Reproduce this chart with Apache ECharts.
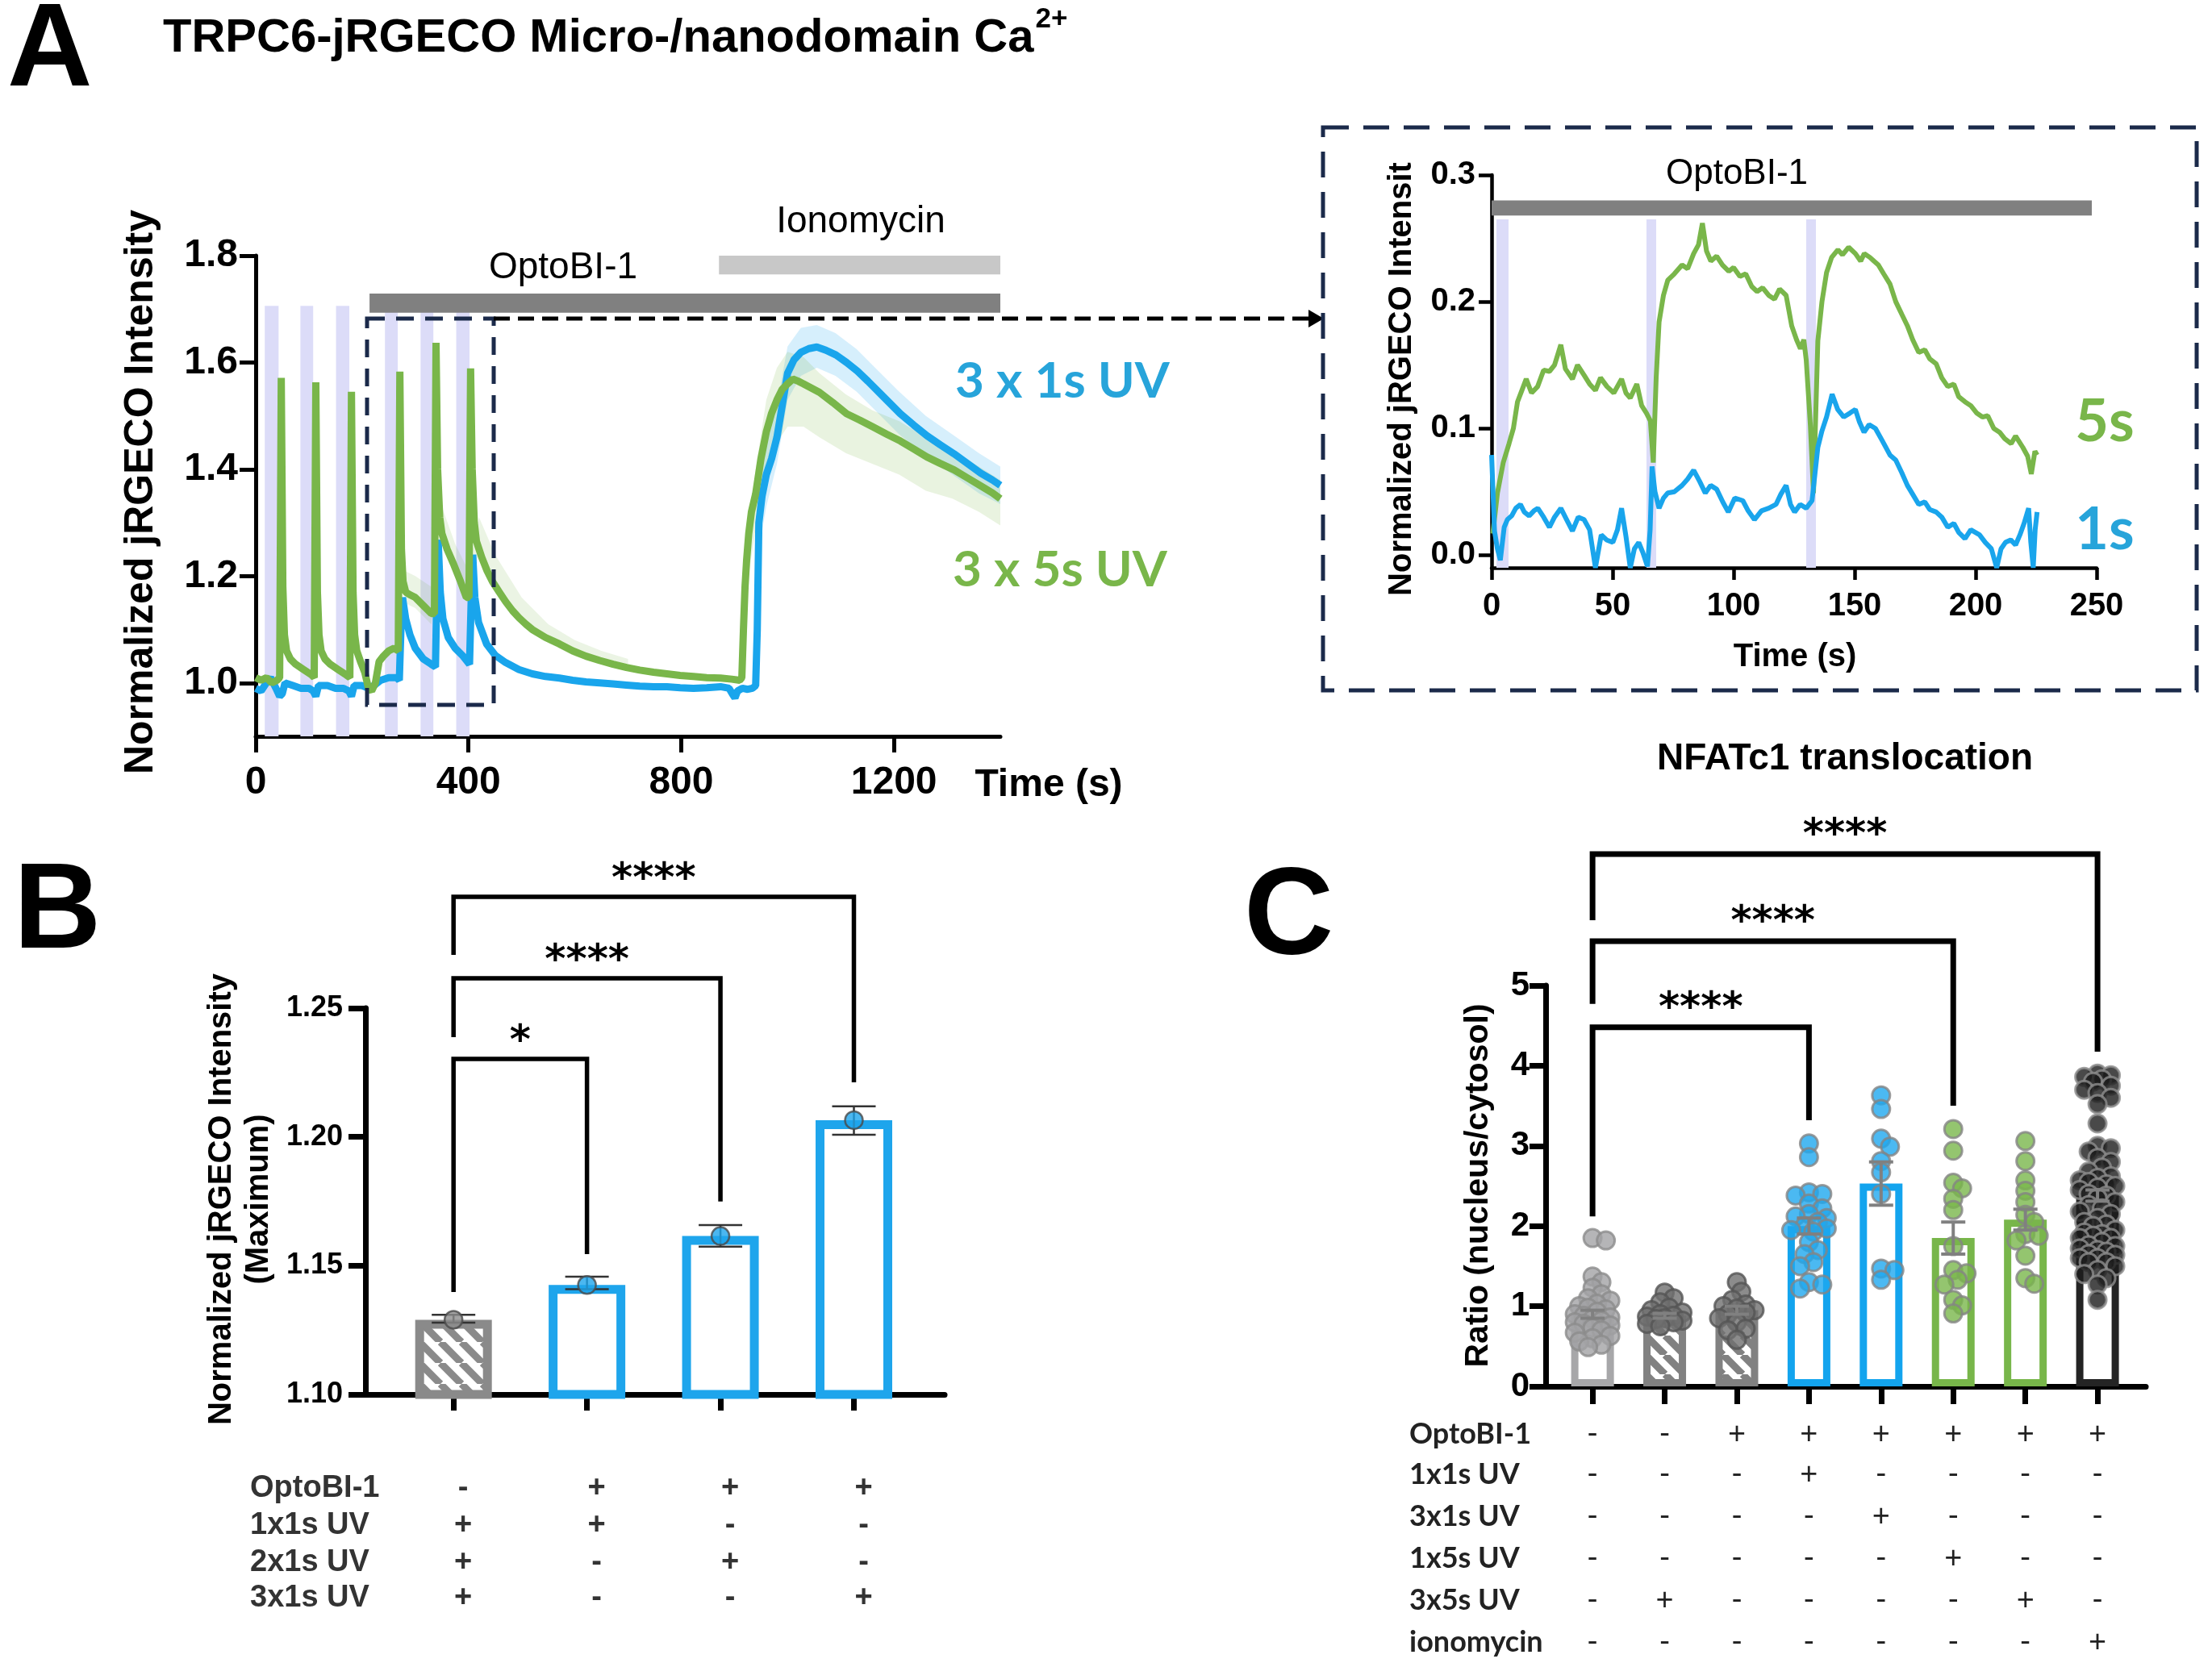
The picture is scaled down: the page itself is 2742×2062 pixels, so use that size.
<!DOCTYPE html>
<html><head><meta charset="utf-8">
<script src="https://cdn.jsdelivr.net/npm/echarts@6/dist/echarts.min.js"></script>
<style>html,body{margin:0;padding:0;background:#fff}#c{width:2742px;height:2062px}</style>
</head><body><div id="c"></div>
<script>
// ---------------- DATA ----------------
// Panel A: main traces (time s, normalized intensity)
const greenT = [0,10,20,30,40,45,48,51,54,58,65,75,90,105,110,113,116,119,123,130,140,155,170,177,180,183,186,190,197,205,212,218,225,232,240,250,260,268,271,274,277,282,290,300,315,330,336,339,342,346,350,360,373,385,396,401,404,407,411,415,425,435,445,458,470,483,495,508,520,545,571,596,621,647,672,697,722,748,773,798,823,848,874,895,910,914,917,920,923,927,932,940,950,960,970,980,990,1000,1010,1020,1030,1045,1060,1085,1111,1136,1161,1186,1212,1237,1262,1287,1313,1338,1363,1385,1400];
const greenV = [1.01,1.005,1.01,1.0,1.005,1.01,1.571,1.18,1.09,1.06,1.045,1.035,1.025,1.015,1.01,1.563,1.17,1.09,1.06,1.045,1.035,1.025,1.015,1.01,1.545,1.17,1.09,1.06,1.04,1.02,0.99,0.985,1.0,1.04,1.05,1.06,1.065,1.06,1.583,1.25,1.19,1.17,1.165,1.16,1.145,1.13,1.13,1.637,1.40,1.31,1.28,1.25,1.22,1.19,1.16,1.16,1.589,1.40,1.30,1.265,1.235,1.21,1.19,1.17,1.152,1.135,1.122,1.11,1.10,1.085,1.073,1.06,1.05,1.042,1.035,1.029,1.024,1.02,1.017,1.014,1.012,1.01,1.009,1.007,1.005,1.01,1.10,1.18,1.23,1.28,1.32,1.354,1.42,1.47,1.505,1.53,1.55,1.56,1.569,1.565,1.56,1.552,1.544,1.525,1.504,1.492,1.479,1.466,1.453,1.438,1.423,1.411,1.399,1.384,1.369,1.356,1.345];
const blueT = [0,10,20,28,38,45,50,55,70,85,100,108,113,118,135,150,165,175,180,185,200,212,222,235,250,265,270,273,276,282,290,300,315,330,338,341,343,347,352,362,375,390,402,405,408,412,419,434,450,470,495,520,545,571,596,621,647,672,697,722,748,773,798,823,848,874,890,897,901,906,915,925,934,940,943,946,952,960,970,980,990,1000,1012,1025,1040,1055,1072,1091,1111,1131,1151,1172,1192,1212,1237,1262,1287,1313,1338,1363,1385,1400];
const blueV = [0.99,0.985,1.0,1.01,0.99,0.975,0.98,1.0,0.995,0.99,0.99,0.985,0.975,0.995,0.995,0.99,0.99,0.985,0.975,0.995,0.995,0.99,0.995,1.005,1.01,1.01,1.005,1.10,1.16,1.12,1.09,1.065,1.045,1.035,1.03,1.20,1.268,1.17,1.12,1.085,1.065,1.05,1.035,1.15,1.24,1.16,1.113,1.073,1.052,1.038,1.025,1.017,1.012,1.009,1.005,1.002,1.0,0.998,0.996,0.994,0.993,0.993,0.991,0.99,0.991,0.993,0.99,0.978,0.972,0.985,0.99,0.988,0.99,0.995,1.10,1.30,1.35,1.39,1.42,1.46,1.52,1.58,1.605,1.619,1.626,1.629,1.623,1.614,1.60,1.584,1.565,1.544,1.524,1.504,1.483,1.463,1.446,1.429,1.411,1.393,1.38,1.37];
// SEM shading (upper / lower)
const greenBandT = [915,925,940,960,980,1000,1030,1060,1110,1160,1210,1260,1310,1360,1400];
const greenUp    = [1.04,1.28,1.40,1.53,1.59,1.62,1.61,1.58,1.54,1.51,1.49,1.46,1.435,1.405,1.38];
const greenLo    = [1.00,1.19,1.29,1.40,1.45,1.48,1.48,1.46,1.43,1.41,1.39,1.36,1.345,1.32,1.295];
const blueBandT  = [940,946,960,980,1000,1025,1055,1090,1130,1170,1210,1260,1310,1360,1400];
const blueUp     = [1.02,1.36,1.45,1.52,1.63,1.665,1.67,1.655,1.625,1.585,1.545,1.50,1.465,1.43,1.405];
const blueLo     = [0.98,1.25,1.33,1.41,1.53,1.575,1.59,1.575,1.545,1.505,1.465,1.425,1.39,1.355,1.335];
const greenBand2T = [280,300,330,350,375,400,420,450,500,550,600,650,700];
const greenBand2Up = [1.21,1.20,1.18,1.33,1.26,1.21,1.31,1.24,1.16,1.11,1.08,1.06,1.045];
const greenBand2Lo = [1.15,1.14,1.11,1.26,1.20,1.15,1.25,1.18,1.11,1.075,1.05,1.035,1.025];
// UV pulses (s) and treatments
const uvBands = [[17,43],[84,108],[151,176],[243,267],[310,334],[377,402]];
const uvTop = 1.706;
const treatA = [[214,1400,1.693,1.729],[871,1400,1.765,1.80]];
const treatNames = ['OptoBI-1','Ionomycin'];
const aTicksX = [0,400,800,1200];
const aTicksY = [1.0,1.2,1.4,1.6,1.8];

// Inset traces (time s, delta intensity)
const inGreenT = [0.5,2.4,4.8,7.2,9,10.7,12.5,14.3,16.5,19,21.5,23.9,26,28.6,30.5,33.4,35.5,38.2,40.5,42.9,45,47.7,50.5,53.7,55.5,57.3,60,62,64,65.6,66.8,68,69.2,71,72.8,75.5,78.7,81,83.5,85.5,87.1,88.8,90.6,93,95.4,98,100,102.6,105,107.5,109.7,112,114.5,116.9,119,121.7,124,126,127.6,129,130,131.7,133,134.8,136.5,138.4,140.5,143.1,145,147.5,150.3,152.5,154,156.3,158,159.8,162,164.6,167,169.5,171.8,174,176.5,179,181,183.7,186,188.5,191,193,195.6,198,200.5,202.8,205,207.5,209.9,212,214.7,216.5,219.5,221.5,223,224.5,225.4];
const inGreenV = [0.017,0.049,0.073,0.088,0.10,0.121,0.13,0.139,0.128,0.133,0.146,0.145,0.15,0.166,0.147,0.139,0.15,0.142,0.135,0.130,0.14,0.133,0.128,0.139,0.128,0.124,0.135,0.118,0.112,0.106,0.073,0.14,0.184,0.205,0.217,0.222,0.229,0.226,0.238,0.245,0.262,0.24,0.232,0.236,0.229,0.224,0.227,0.220,0.222,0.212,0.208,0.211,0.205,0.202,0.21,0.205,0.181,0.17,0.163,0.17,0.154,0.103,0.049,0.169,0.2,0.223,0.235,0.241,0.237,0.243,0.238,0.232,0.238,0.235,0.232,0.229,0.222,0.214,0.2,0.19,0.181,0.17,0.160,0.162,0.155,0.151,0.14,0.133,0.135,0.125,0.121,0.118,0.112,0.109,0.11,0.1,0.097,0.092,0.088,0.094,0.085,0.078,0.064,0.082,0.079];
const inBlueT = [0,1.2,2.4,3.6,5.2,6.5,8.3,10,11.9,13.5,15.5,17.5,19.1,21.5,23.9,26,28.6,31,33.4,35.8,38.2,40.5,42.9,45.3,47.5,50.1,52,53.7,55.5,57.3,59,60.8,62.5,64.4,65.5,66.3,67.5,69.2,71,72.8,75.5,78.7,81,83.5,86,88.3,90.5,93,95.5,97.8,100.5,103.8,106,108.6,111.5,114.5,117.5,119.5,121.7,123.5,125.2,127.5,130,132.4,134.8,136.5,138.4,140.7,143,145.5,148,150.3,152,153.9,156,158.6,161.5,164.6,167,169.5,171.8,174,176.5,179,181,183.7,186,188.5,191,193,195.6,198,201.6,204,206.5,208.7,210.5,212.3,214.5,216.5,218.3,220,221.9,222.8,223.8,224.6,225.4];
const inBlueV = [0.079,0.019,0.005,-0.004,0.022,0.028,0.031,0.037,0.040,0.034,0.031,0.035,0.037,0.03,0.022,0.03,0.037,0.028,0.019,0.03,0.028,0.02,-0.010,0.016,0.012,0.010,0.02,0.037,0.015,-0.010,0.005,0.010,0.002,-0.009,0.02,0.070,0.05,0.037,0.045,0.049,0.05,0.055,0.06,0.067,0.058,0.049,0.055,0.052,0.042,0.034,0.045,0.043,0.035,0.028,0.035,0.037,0.04,0.048,0.055,0.04,0.034,0.04,0.037,0.043,0.085,0.098,0.109,0.127,0.115,0.109,0.112,0.115,0.105,0.097,0.103,0.100,0.09,0.079,0.075,0.065,0.055,0.048,0.040,0.042,0.036,0.034,0.03,0.022,0.025,0.018,0.013,0.02,0.016,0.01,0.005,-0.010,0.005,0.010,0.012,0.008,0.016,0.025,0.037,0.01,-0.010,0.02,0.034];
const inUvBands = [[2,7],[64,68],[130,134]];
const inUvTop = 0.265;
const inTreat = [[0,248,0.268,0.280]];

// Panel B
const bMeans = [1.129,1.1425,1.1615,1.2065];
const bErrLo = [1.1279,1.1409,1.1574,1.2008];
const bErrHi = [1.1309,1.1457,1.1658,1.2119];
const bTicksY = [1.10,1.15,1.20,1.25];
const bBrackets = [[0,1,1.2303,1.1398,1.1545],[0,2,1.2616,1.2387,1.1749],[0,3,1.2932,1.2707,1.2212]];
const bStars = ['*','****','****'];
const bRowLabels = ['OptoBI-1','1x1s UV','2x1s UV','3x1s UV'];
const bRowOpto = ['-','+','+','+'];
const bRow1x1 = ['+','+','-','-'];
const bRow2x1 = ['+','-','+','-'];
const bRow3x1 = ['+','-','-','+'];

// Panel C
const cMeans = [0.90,0.88,0.95,2.00,2.53,1.85,2.08,2.38];
const cSem   = [0.05,0.03,0.05,0.10,0.27,0.20,0.13,0.07];
const cDots1 = [1.85,1.82,1.37,1.30,1.23,1.15,1.10,1.07,1.03,1.00,0.98,0.96,0.93,0.90,0.88,0.86,0.84,0.82,0.80,0.78,0.76,0.73,0.70,0.67,0.63,0.60,0.56,0.52,0.49];
const cDots2 = [1.17,1.10,1.05,0.98,0.95,0.92,0.90,0.88,0.87,0.85,0.84,0.82,0.80,0.78,0.75];
const cDots3 = [1.30,1.18,1.08,1.02,1.00,0.97,0.95,0.92,0.90,0.85,0.80,0.72,0.70,0.58];
const cDots4 = [3.03,2.86,2.42,2.40,2.38,2.28,2.22,2.15,2.12,2.10,2.05,2.00,1.97,1.95,1.93,1.80,1.70,1.65,1.55,1.50,1.30,1.27,1.22];
const cDots5 = [3.63,3.46,3.09,2.99,2.81,2.67,2.40,1.47,1.45,1.33];
const cDots6 = [3.21,2.94,2.54,2.47,2.34,2.20,1.75,1.45,1.41,1.33,1.27,1.08,1.01,0.91];
const cDots7 = [3.06,2.81,2.57,2.44,2.30,2.14,2.05,1.90,1.88,1.82,1.63,1.35,1.28];
const cDots8 = [3.90,3.88,3.86,3.83,3.80,3.75,3.70,3.66,3.60,3.52,3.28,3.00,2.97,2.93,2.85,2.80,2.73,2.68,2.62,2.60,2.57,2.55,2.52,2.50,2.48,2.45,2.40,2.38,2.35,2.30,2.26,2.22,2.18,2.15,2.10,2.05,2.02,2.00,1.95,1.92,1.90,1.88,1.85,1.85,1.80,1.76,1.75,1.72,1.70,1.68,1.65,1.64,1.60,1.60,1.55,1.55,1.50,1.45,1.40,1.35,1.27,1.08];
const cBrackets = [[0,3,4.48,2.12,3.32],[0,5,5.553,4.77,3.50],[0,7,6.64,5.815,4.175]];
const cStars = ['****','****','****'];
const cRowLabels = ['OptoBI-1','1x1s UV','3x1s UV','1x5s UV','3x5s UV','ionomycin'];
const cRowOpto = ['-','-','+','+','+','+','+','+'];
const cRow1x1  = ['-','-','-','+','-','-','-','-'];
const cRow3x1  = ['-','-','-','-','+','-','-','-'];
const cRow1x5  = ['-','-','-','-','-','+','-','-'];
const cRow3x5  = ['-','+','-','-','-','-','+','-'];
const cRowIono = ['-','-','-','-','-','-','-','+'];

// ---------------- STYLE ----------------
const FS = '"Liberation Sans", Arial, sans-serif';
const FL = 'Lato, "Open Sans", sans-serif';
const BLUE = '#19a5ec', GREEN = '#79b64a';
const zip = (t, v) => t.map((x, i) => [x, v[i]]);

function hatch(size, lw, color) {
  const c = document.createElement('canvas'); c.width = c.height = size;
  const g = c.getContext('2d'); g.fillStyle = '#fff'; g.fillRect(0, 0, size, size);
  g.strokeStyle = color; g.lineWidth = lw; g.beginPath();
  for (let k = -1; k <= 1; k++) { g.moveTo(k * size, 0); g.lineTo(k * size + size, size); }
  g.stroke(); return c;
}
const hatchB = hatch(26, 9, '#8a8a8a');
const hatchC = hatch(24, 9, '#818181');

function axisX(grid, min, max, opts) {
  return {
    gridIndex: grid, type: 'value', min, max,
    axisLine: { show: true, onZero: false, lineStyle: { color: '#000', width: opts.lw } },
    splitLine: { show: false },
    axisTick: { show: true, length: opts.tl, lineStyle: { color: '#000', width: opts.lw }, customValues: opts.ticks },
    axisLabel: opts.fs ? { show: true, customValues: opts.ticks, margin: opts.margin, color: '#000', fontFamily: FS, fontWeight: 'bold', fontSize: opts.fs, formatter: opts.fmt || (v => String(v)) } : { show: false }
  };
}

function rectRender(top, bottom, colors) {
  return function (params, api) {
    const p1 = api.coord([api.value(0), top != null ? top : api.value(3)]);
    const p2 = api.coord([api.value(1), bottom != null ? bottom : api.value(2)]);
    return { type: 'rect', shape: { x: p1[0], y: p1[1], width: p2[0] - p1[0], height: p2[1] - p1[1] },
      style: { fill: Array.isArray(colors) ? colors[params.dataIndex] : colors } };
  };
}
function bandRender(T, U, L, color) {
  return function (params, api) {
    const pts = [];
    for (let i = 0; i < T.length; i++) pts.push(api.coord([T[i], U[i]]));
    for (let i = T.length - 1; i >= 0; i--) pts.push(api.coord([T[i], L[i]]));
    return { type: 'polygon', shape: { points: pts }, style: { fill: color } };
  };
}
function errRender(capHalf, color, lw) {
  return function (params, api) {
    const x = api.value(0), lo = api.value(1), hi = api.value(2);
    const a = api.coord([x, hi]), b = api.coord([x, lo]);
    const st = { stroke: color, lineWidth: lw };
    return { type: 'group', children: [
      { type: 'line', shape: { x1: a[0], y1: a[1], x2: b[0], y2: b[1] }, style: st },
      { type: 'line', shape: { x1: a[0] - capHalf, y1: a[1], x2: a[0] + capHalf, y2: a[1] }, style: st },
      { type: 'line', shape: { x1: b[0] - capHalf, y1: b[1], x2: b[0] + capHalf, y2: b[1] }, style: st }
    ] };
  };
}
function bracketRender(stars, lw, gap) {
  return function (params, api) {
    const x1 = api.value(0), x2 = api.value(1), lv = api.value(2), lb = api.value(3), rb = api.value(4);
    const a = api.coord([x1, lb]), b = api.coord([x1, lv]), c = api.coord([x2, lv]), d = api.coord([x2, rb]);
    return { type: 'group', children: [
      { type: 'polyline', shape: { points: [a, b, c, d] }, style: { stroke: '#000', lineWidth: lw, fill: null, lineJoin: 'miter' } },
      { type: 'text', x: (b[0] + c[0]) / 2, y: b[1] - gap,
        style: { text: stars[params.dataIndex], font: 'bold 50px "DejaVu Sans"', fill: '#000', align: 'center', verticalAlign: 'middle', textAlign: 'center', textVerticalAlign: 'middle' } }
    ] };
  };
}

// beeswarm offsets (deterministic, no randomness)
function swarm(vals, gi, pxX, pxY, r) {
  const order = vals.map((v, i) => i).sort((a, b) => vals[b] - vals[a]);
  const placed = [], out = new Array(vals.length);
  const step = r * 0.5, minD = r * 1.15, maxK = Math.floor(r * 2.2 / step) * 2;
  order.forEach(i => {
    const y = vals[i] * pxY; let best = 0, bestScore = -1;
    for (let k = 0; k <= maxK; k++) {
      const off = (k % 2 === 1 ? 1 : -1) * Math.ceil(k / 2) * step;
      let md = Infinity;
      placed.forEach(p => { const d = Math.hypot(p[0] - off, p[1] - y); if (d < md) md = d; });
      if (md >= minD) { best = off; break; }
      if (md > bestScore) { bestScore = md; best = off; }
    }
    placed.push([best, y]); out[i] = [gi + best / pxX, vals[i]];
  });
  return out;
}

// ---------------- CHART ----------------
const chart = echarts.init(document.getElementById('c'), null, { width: 2742, height: 2062 });

const cGroups = [cDots1, cDots2, cDots3, cDots4, cDots5, cDots6, cDots7, cDots8];
const cBorder = ['#a7a7a9', '#818181', '#818181', '#13a4ee', '#13a4ee', '#78b64a', '#78b64a', '#242424'];
const cFill = ['#a3a3a5', '#6f6f6f', '#6f6f6f', '#1ea8ef', '#1ea8ef', '#79b74b', '#79b74b', '#1b1b1b'];
const cDotBorder = ['#8c8c8c', '#555555', '#555555', '#858585', '#858585', '#858585', '#858585', '#8e8e8e'];
const cPxX = 744 / (7.67 + 0.65), cPxY = 497 / 5;
const cDotData = [];
cGroups.forEach((g, gi) => {
  swarm(g, gi, cPxX, cPxY, 11).forEach(p => cDotData.push({ value: p, itemStyle: { color: cFill[gi], borderColor: cDotBorder[gi], borderWidth: 3 } }));
});

const option = {
  animation: false,
  backgroundColor: '#fff',
  textStyle: { fontFamily: FS },
  grid: [
    { left: 317, top: 317, width: 923, height: 596 },
    { left: 1849, top: 217, width: 750, height: 487 },
    { left: 453, top: 1250, width: 718, height: 479 },
    { left: 1916, top: 1222, width: 744, height: 497 }
  ],
  xAxis: [
    axisX(0, 0, 1400, { lw: 5, tl: 20, ticks: aTicksX, fs: 48, margin: 34 }),
    axisX(1, 0, 250, { lw: 4.5, tl: 15, ticks: [0, 50, 100, 150, 200, 250], fs: 40, margin: 28 }),
    axisX(2, -0.66, 3.68, { lw: 7, tl: 20, ticks: [0, 1, 2, 3] }),
    axisX(3, -0.65, 7.67, { lw: 7, tl: 22, ticks: [0, 1, 2, 3, 4, 5, 6, 7] })
  ],
  yAxis: [
    axisX(0, 0.9, 1.8, { lw: 5, tl: 20, ticks: aTicksY, fs: 48, margin: 22, fmt: v => v.toFixed(1) }),
    axisX(1, -0.01, 0.3, { lw: 4.5, tl: 16, ticks: [0, 0.1, 0.2, 0.3], fs: 40, margin: 20, fmt: v => v.toFixed(1) }),
    axisX(2, 1.10, 1.25, { lw: 7, tl: 21, ticks: bTicksY, fs: 36, margin: 28, fmt: v => v.toFixed(2) }),
    axisX(3, 0, 5, { lw: 7, tl: 20, ticks: [0, 1, 2, 3, 4, 5], fs: 42, margin: 20 })
  ],
  series: [
    // ---- Panel A ----
    { type: 'custom', xAxisIndex: 0, yAxisIndex: 0, z: 1, data: uvBands, encode: { x: [0, 1] }, renderItem: rectRender(uvTop, 0.9, '#dcdcf8') },
    { type: 'custom', xAxisIndex: 0, yAxisIndex: 0, z: 1, data: treatA, encode: { x: [0, 1], y: [2, 3] }, renderItem: rectRender(null, null, ['#808080', '#c8c8c8']) },
    { type: 'custom', xAxisIndex: 0, yAxisIndex: 0, z: 1, data: [[greenBand2T[0], greenBand2Up[0]]], encode: { x: 0, y: 1 }, renderItem: bandRender(greenBand2T, greenBand2Up, greenBand2Lo, 'rgba(122,182,72,0.15)') },
    { type: 'custom', xAxisIndex: 0, yAxisIndex: 0, z: 1, data: [[blueBandT[0], blueUp[0]]], encode: { x: 0, y: 1 }, renderItem: bandRender(blueBandT, blueUp, blueLo, 'rgba(25,165,236,0.18)') },
    { type: 'custom', xAxisIndex: 0, yAxisIndex: 0, z: 1, data: [[greenBandT[0], greenUp[0]]], encode: { x: 0, y: 1 }, renderItem: bandRender(greenBandT, greenUp, greenLo, 'rgba(122,182,72,0.17)') },
    { type: 'line', name: '3 x 1s UV', xAxisIndex: 0, yAxisIndex: 0, z: 3, showSymbol: false, data: zip(blueT, blueV), lineStyle: { color: BLUE, width: 9 }, itemStyle: { color: BLUE } },
    { type: 'line', name: '3 x 5s UV', xAxisIndex: 0, yAxisIndex: 0, z: 4, showSymbol: false, data: zip(greenT, greenV), lineStyle: { color: GREEN, width: 9 }, itemStyle: { color: GREEN } },
    // ---- Inset ----
    { type: 'custom', xAxisIndex: 1, yAxisIndex: 1, z: 1, data: inUvBands, encode: { x: [0, 1] }, renderItem: rectRender(inUvTop, -0.01, '#dcdcf8') },
    { type: 'custom', xAxisIndex: 1, yAxisIndex: 1, z: 1, data: inTreat, encode: { x: [0, 1], y: [2, 3] }, renderItem: rectRender(null, null, '#808080') },
    { type: 'line', name: '5s', xAxisIndex: 1, yAxisIndex: 1, z: 3, showSymbol: false, data: zip(inGreenT, inGreenV), lineStyle: { color: GREEN, width: 6 } },
    { type: 'line', name: '1s', xAxisIndex: 1, yAxisIndex: 1, z: 4, showSymbol: false, data: zip(inBlueT, inBlueV), lineStyle: { color: BLUE, width: 6 } },
    // ---- Panel B ----
    { type: 'bar', xAxisIndex: 2, yAxisIndex: 2, z: 2, barWidth: 95,
      data: bMeans.map((v, i) => ({ value: [i, v], itemStyle: i === 0 ? { color: { image: hatchB, repeat: 'repeat' }, borderColor: '#8a8a8a', borderWidth: 11 } : { color: '#fff', borderColor: '#1ea5ec', borderWidth: 11 } })) },
    { type: 'custom', xAxisIndex: 2, yAxisIndex: 2, z: 3, data: bMeans.map((v, i) => [i, bErrLo[i], bErrHi[i]]), encode: { x: 0, y: [1, 2] }, renderItem: errRender(27, '#333', 2.5) },
    { type: 'scatter', xAxisIndex: 2, yAxisIndex: 2, z: 4, symbolSize: 22,
      data: bMeans.map((v, i) => ({ value: [i, v], itemStyle: { color: i === 0 ? '#8c8c8c' : '#1ea5ec', borderColor: '#4a4a4a', borderWidth: 2.5 } })) },
    { type: 'custom', xAxisIndex: 2, yAxisIndex: 2, z: 5, clip: false, data: bBrackets, encode: { x: [0, 1], y: [2, 3, 4] }, renderItem: bracketRender(bStars, 5.5, 20) },
    // ---- Panel C ----
    { type: 'bar', xAxisIndex: 3, yAxisIndex: 3, z: 2, barWidth: 53,
      data: cMeans.map((v, i) => ({ value: [i, v], itemStyle: { color: (i === 1 || i === 2) ? { image: hatchC, repeat: 'repeat' } : '#fff', borderColor: cBorder[i], borderWidth: 9 } })) },
    { type: 'scatter', xAxisIndex: 3, yAxisIndex: 3, z: 3, symbolSize: 22, data: cDotData },
    { type: 'custom', xAxisIndex: 3, yAxisIndex: 3, z: 4, data: cMeans.map((v, i) => [i, v - cSem[i], v + cSem[i]]), encode: { x: 0, y: [1, 2] }, renderItem: errRender(15, '#808080', 4) },
    { type: 'custom', xAxisIndex: 3, yAxisIndex: 3, z: 5, clip: false, data: cBrackets, encode: { x: [0, 1], y: [2, 3, 4] }, renderItem: bracketRender(cStars, 7, 22) }
  ]
};
chart.setOption(option);

// ---------------- ANNOTATIONS ----------------
function txt(x, y, text, font, opts) {
  opts = opts || {};
  return { type: 'text', x, y, rotation: opts.rot || 0, z: 100,
    style: { text, font, fill: opts.fill || '#000', textAlign: opts.align || 'center', textVerticalAlign: 'middle', align: opts.align || 'center', verticalAlign: 'middle' } };
}
const G = [];
// panel letters
G.push(txt(9, 66, 'A', 'bold 146px ' + FS, { align: 'left' }));
G.push(txt(17, 1134, 'B', 'bold 150px ' + FS, { align: 'left' }));
G.push(txt(1542, 1141, 'C', 'bold 154px ' + FS, { align: 'left' }));
// title A with superscript
const titleMain = 'TRPC6-jRGECO Micro-/nanodomain Ca';
const mctx = document.createElement('canvas').getContext('2d');
mctx.font = 'bold 58px "Liberation Sans"';
const tw = mctx.measureText(titleMain).width;
G.push(txt(202, 48, titleMain, 'bold 58px ' + FS, { align: 'left' }));
G.push(txt(202 + tw + 2, 24, '2+', 'bold 35px ' + FS, { align: 'left' }));
// panel A texts
G.push(txt(175, 610, 'Normalized jRGECO Intensity', 'bold 50px ' + FS, { rot: Math.PI / 2 }));
G.push(txt(1067, 275, treatNames[1], '46px ' + FS));
G.push(txt(698, 332, treatNames[0], '46px ' + FS));
G.push(txt(1300, 974, 'Time (s)', 'bold 48px ' + FS));
G.push(txt(1317, 473, '3 x 1s UV', 'bold 62px ' + FL, { fill: '#27a4da' }));
G.push(txt(1314, 707, '3 x 5s UV', 'bold 62px ' + FL, { fill: GREEN }));
// dashed zoom box + arrow
G.push({ type: 'rect', z: 90, shape: { x: 455, y: 395, width: 157, height: 479 }, style: { fill: null, stroke: '#1b2a4a', lineWidth: 5, lineDash: [22, 14] } });
G.push({ type: 'line', z: 90, shape: { x1: 612, y1: 395, x2: 1624, y2: 395 }, style: { stroke: '#000', lineWidth: 5, lineDash: [20, 10] } });
G.push({ type: 'polygon', z: 90, shape: { points: [[1622, 384], [1641, 395], [1622, 406]] }, style: { fill: '#000' } });
G.push({ type: 'rect', z: 90, shape: { x: 1640, y: 158, width: 1083, height: 698 }, style: { fill: null, stroke: '#1b2a4a', lineWidth: 5, lineDash: [32, 18] } });
// inset texts
G.push(txt(2153, 216, treatNames[0], '44px ' + FS));
G.push(txt(1738, 470, 'Normalized jRGECO Intensit', 'bold 40px ' + FS, { rot: Math.PI / 2 }));
G.push(txt(2225, 815, 'Time (s)', 'bold 40px ' + FS));
G.push(txt(2609, 524, '5s', 'bold 72px ' + FL, { fill: GREEN }));
G.push(txt(2609, 658, '1s', 'bold 72px ' + FL, { fill: '#27a4da' }));
// panel B texts
G.push(txt(275, 1487, 'Normalized jRGECO Intensity', 'bold 40px ' + FS, { rot: Math.PI / 2 }));
G.push(txt(321, 1487, '(Maximum)', 'bold 40px ' + FS, { rot: Math.PI / 2 }));
const bRows = [bRowOpto, bRow1x1, bRow2x1, bRow3x1];
const bRowY = [1846, 1892, 1938, 1982];
bRows.forEach((row, r) => {
  G.push(txt(310, bRowY[r], bRowLabels[r], 'bold 38px ' + FS, { align: 'left', fill: '#333' }));
  row.forEach((m, i) => {
    const px = chart.convertToPixel({ xAxisIndex: 2 }, i) + 12;
    G.push(txt(px, bRowY[r], m, 'bold 38px ' + FS, { fill: '#333' }));
  });
});
// panel C texts
G.push(txt(2287, 941, 'NFATc1 translocation', 'bold 46px ' + FS));
G.push(txt(1833, 1470, 'Ratio (nucleus/cytosol)', 'bold 41px ' + FS, { rot: Math.PI / 2 }));
const cRows = [cRowOpto, cRow1x1, cRow3x1, cRow1x5, cRow3x5, cRowIono];
const cRowY = [1778, 1828, 1880, 1932, 1984, 2036];
cRows.forEach((row, r) => {
  G.push(txt(1747, cRowY[r], cRowLabels[r], 'bold 36px ' + FL, { align: 'left', fill: '#222' }));
  row.forEach((m, i) => {
    const px = chart.convertToPixel({ xAxisIndex: 3 }, i);
    G.push(txt(px, cRowY[r], m, '38px ' + FL, { fill: '#222' }));
  });
});
chart.setOption({ graphic: { elements: G } });
</script></body></html>
